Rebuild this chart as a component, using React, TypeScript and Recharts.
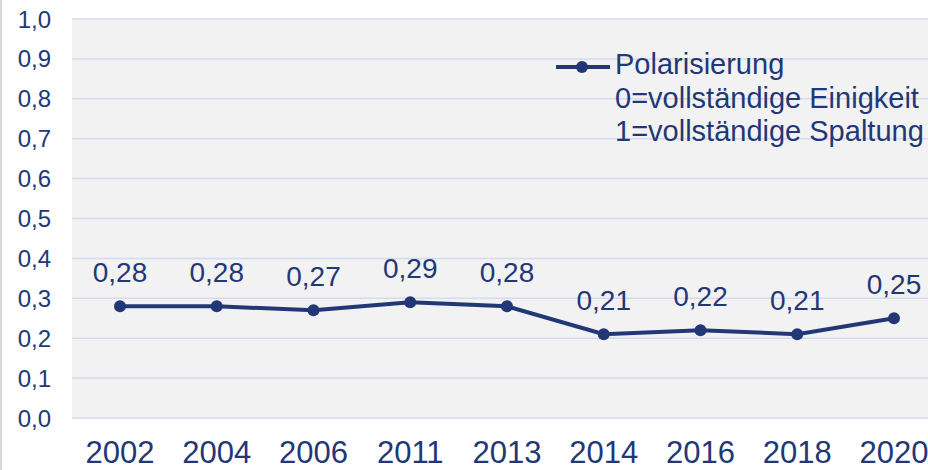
import { LineChart, Line, XAxis, YAxis, CartesianGrid, Legend, LabelList } from "recharts"

const years = ["2002", "2004", "2006", "2011", "2013", "2014", "2016", "2018", "2020"]
const polarisierung = [0.28, 0.28, 0.27, 0.29, 0.28, 0.21, 0.22, 0.21, 0.25]
const yTicks = [0, 0.1, 0.2, 0.3, 0.4, 0.5, 0.6, 0.7, 0.8, 0.9, 1.0]
const legendLines = ["Polarisierung", "0=vollständige Einigkeit", "1=vollständige Spaltung"]

const data = years.map((year, i) => ({ year, value: polarisierung[i] }))

const NAVY = "#223876"
const FONT = "'Liberation Sans', Arial, sans-serif"

const comma = (v: number, digits: number) => v.toFixed(digits).replace(".", ",")

function LegendBox() {
  return (
    <div style={{ fontFamily: FONT, fontSize: 29, color: NAVY, lineHeight: "33.5px", display: "flex" }}>
      <svg width={59} height={34} style={{ flex: "none" }}>
        <line x1={0} y1={19} x2={54} y2={19} stroke={NAVY} strokeWidth={4} />
        <circle cx={26} cy={19} r={6} fill={NAVY} />
      </svg>
      <div style={{ whiteSpace: "nowrap" }}>
        {legendLines.map((t) => (
          <div key={t}>{t}</div>
        ))}
      </div>
    </div>
  )
}

export default function App() {
  return (
    <div style={{ position: "absolute", left: 0, top: 0, width: 928, height: 470, overflow: "hidden", background: "#fff" }}>
      <div style={{ position: "absolute", left: 0, top: 0, width: 2, height: 470, background: "#d9d9d9" }} />
      <LineChart width={942} height={470} data={data} margin={{ top: 19, right: 0, bottom: 0, left: 0 }}>
        <CartesianGrid vertical={false} fill="#f2f2f2" stroke="#d3dbf1" strokeWidth={1.5} />
        <XAxis
          dataKey="year"
          axisLine={false}
          tickLine={false}
          tickSize={0}
          tickMargin={23}
          height={52}
          interval={0}
          padding={{ left: 48, right: 48 }}
          tick={{ fill: NAVY, fontSize: 31, fontFamily: FONT }}
        />
        <YAxis
          domain={[0, 1]}
          ticks={yTicks}
          width={72}
          axisLine={false}
          tickLine={false}
          tickSize={0}
          tickMargin={21}
          tickFormatter={(v: number) => comma(v, 1)}
          tick={{ fill: NAVY, fontSize: 24, fontFamily: FONT }}
        />
        <Legend
          layout="horizontal"
          verticalAlign="middle"
          align="center"
          wrapperStyle={{ left: 556, top: 48, width: 420, height: 110 }}
          content={() => <LegendBox />}
        />
        <Line
          type="linear"
          dataKey="value"
          name="Polarisierung"
          stroke={NAVY}
          strokeWidth={4}
          dot={{ r: 6, fill: NAVY, stroke: NAVY, strokeWidth: 0 }}
          activeDot={false}
          isAnimationActive={false}
        >
          <LabelList
            dataKey="value"
            position="top"
            offset={24}
            formatter={(v: number) => comma(v, 2)}
            style={{ fill: NAVY, fontSize: 28, fontFamily: FONT }}
          />
        </Line>
      </LineChart>
    </div>
  )
}
